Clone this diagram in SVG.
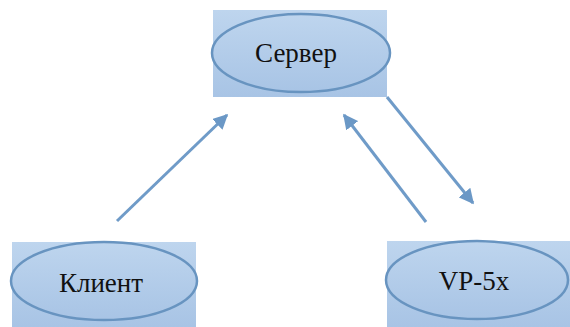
<svg xmlns="http://www.w3.org/2000/svg" width="570" height="327" viewBox="0 0 570 327">
<defs>
<linearGradient id="g" x1="0" y1="0" x2="0" y2="1">
<stop offset="0" stop-color="#bed5ee"/>
<stop offset="1" stop-color="#a8c4e5"/>
</linearGradient>
<marker id="ah" viewBox="0 0 10 10" refX="9" refY="5" markerWidth="5" markerHeight="5" orient="auto" markerUnits="strokeWidth">
<path d="M0,0 L10,5 L0,10 Z" fill="#6b98c6"/>
</marker>
<style>
.box{fill:url(#g);}
.ell{fill:url(#g);stroke:#6894c0;stroke-width:2.5;}
.lbl{font-family:"Liberation Serif","DejaVu Serif",serif;font-size:27px;fill:#111;text-anchor:middle;}
.c{stroke:#6f9bc8;stroke-width:3;fill:none;marker-end:url(#ah);}
</style>
</defs>
<g id="server">
<rect class="box" x="213" y="10" width="174" height="87"/>
<ellipse class="ell" cx="301" cy="53" rx="89" ry="39"/>
<text class="lbl" x="296" y="62">Сервер</text>
</g>
<g id="client">
<rect class="box" x="12" y="242" width="184" height="85"/>
<ellipse class="ell" cx="104" cy="281" rx="93" ry="39"/>
<text class="lbl" x="101" y="292">Клиент</text>
</g>
<g id="vp5x">
<rect class="box" x="387" y="241" width="183" height="86"/>
<ellipse class="ell" cx="477" cy="280" rx="91" ry="39"/>
<text class="lbl" x="474" y="290">VP-5x</text>
</g>
<g id="connectors">
<line class="c" x1="117" y1="221" x2="227" y2="115"/>
<line class="c" x1="387" y1="97" x2="473" y2="203"/>
<line class="c" x1="426" y1="222" x2="344" y2="115"/>
</g>
</svg>
